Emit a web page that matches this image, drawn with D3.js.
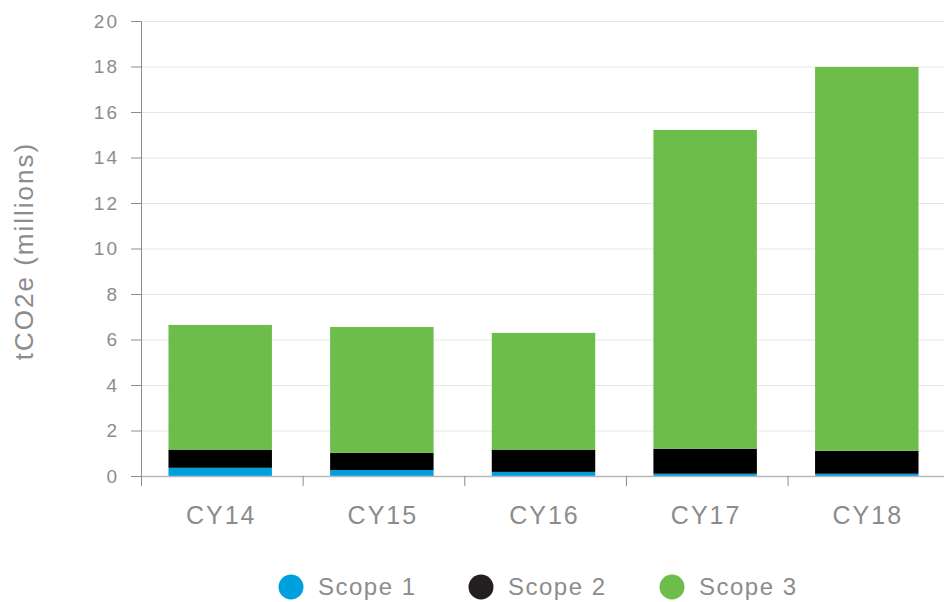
<!DOCTYPE html>
<html>
<head>
<meta charset="utf-8">
<script src="https://cdn.jsdelivr.net/npm/d3@7"></script>
<style>
  body { margin: 0; background: #fff; }
  svg text { font-family: "Liberation Sans", Arial, sans-serif; fill: #8c8c8c; }
</style>
</head>
<body>
<div id="chart"></div>
<script>
// 1: DATA
const years = ["CY14", "CY15", "CY16", "CY17", "CY18"];
const scope1 = [0.36, 0.26, 0.18, 0.10, 0.10];
const scope2 = [0.80, 0.76, 0.98, 1.10, 1.01];
const scope3 = [5.48, 5.53, 5.13, 14.01, 16.87];
const seriesNames = ["Scope 1", "Scope 2", "Scope 3"];
const seriesColors = ["#00a0df", "#000000", "#6cbd4a"];
const yTicks = [0, 2, 4, 6, 8, 10, 12, 14, 16, 18, 20];

// 2: SETUP
const W = 944, H = 602;
const margin = { top: 21, right: 0, bottom: 126, left: 141 };
const height = H - margin.top - margin.bottom;

const svg = d3.select("#chart")
    .append("svg")
    .attr("width", W)
    .attr("height", H);

const table = years.map((y, i) => ({
    year: y,
    "Scope 1": scope1[i],
    "Scope 2": scope2[i],
    "Scope 3": scope3[i]
}));
const stacked = d3.stack().keys(seriesNames)(table);

const x = d3.scaleBand()
    .domain(years)
    .range([margin.left, margin.left + 161 * 5])
    .paddingInner(0.36)
    .paddingOuter(0.17);

const y = d3.scaleLinear()
    .domain([0, 20])
    .range([margin.top + height, margin.top]);

const color = d3.scaleOrdinal().domain(seriesNames).range(seriesColors);

// grid lines
svg.append("g")
    .selectAll("line")
    .data(yTicks.filter(d => d > 0))
    .join("line")
    .attr("x1", margin.left)
    .attr("x2", W)
    .attr("y1", d => y(d) + 0.5)
    .attr("y2", d => y(d) + 0.5)
    .attr("stroke", "#e6e6e6")
    .attr("stroke-width", 1);

// bars
svg.append("g")
    .selectAll("g")
    .data(stacked)
    .join("g")
    .attr("fill", d => color(d.key))
    .selectAll("rect")
    .data(d => d)
    .join("rect")
    .attr("x", d => x(d.data.year))
    .attr("width", x.bandwidth())
    .attr("y", d => y(d[1]))
    .attr("height", d => y(d[0]) - y(d[1]));

// Y axis
const yAxis = svg.append("g")
    .attr("transform", `translate(${margin.left},0)`)
    .call(d3.axisLeft(y).tickValues(yTicks).tickSize(10).tickPadding(12));
yAxis.select(".domain").attr("stroke", "#8c8c8c").attr("d", `M-10,${y(20)+0.5}H0.5V${y(0)}`);
yAxis.selectAll(".tick line").attr("stroke", "#8c8c8c");
yAxis.selectAll(".tick text")
    .style("font-size", "19px")
    .style("letter-spacing", "2px")
    .attr("fill", "#8c8c8c");

// X axis
const xAxisG = svg.append("g")
    .attr("transform", `translate(0,${y(0)})`);
xAxisG.append("line")
    .attr("x1", margin.left)
    .attr("x2", W)
    .attr("y1", 0.5)
    .attr("y2", 0.5)
    .attr("stroke", "#b8b8b8")
    .attr("stroke-width", 1.5);
const step = x.step();
xAxisG.selectAll(".xtick")
    .data(d3.range(years.length + 1))
    .join("line")
    .attr("x1", i => margin.left + i * step + 0.5)
    .attr("x2", i => margin.left + i * step + 0.5)
    .attr("y1", 0)
    .attr("y2", 10)
    .attr("stroke", "#8c8c8c");
xAxisG.selectAll(".xlabel")
    .data(years)
    .join("text")
    .attr("x", d => x(d) + x.bandwidth() / 2 + 1)
    .attr("y", 48)
    .attr("text-anchor", "middle")
    .style("font-size", "25px")
    .style("letter-spacing", "2px")
    .text(d => d);

// Y label
svg.append("text")
    .attr("transform", "rotate(-90)")
    .attr("x", -251)
    .attr("y", 33)
    .attr("text-anchor", "middle")
    .style("font-size", "26px")
    .style("letter-spacing", "2px")
    .text("tCO2e (millions)");

// legend
const legendX = [291, 481, 672];
const legend = svg.append("g");
seriesNames.forEach((name, i) => {
    const item = legend.append("g")
        .attr("transform", `translate(${legendX[i]},587)`);
    item.append("circle")
        .attr("r", 12.5)
        .attr("fill", i === 1 ? "#231f20" : color(name));
    item.append("text")
        .attr("x", 27)
        .attr("dy", "0.35em")
        .style("font-size", "24px")
        .style("letter-spacing", "1.5px")
        .text(name);
});
</script>
</body>
</html>
